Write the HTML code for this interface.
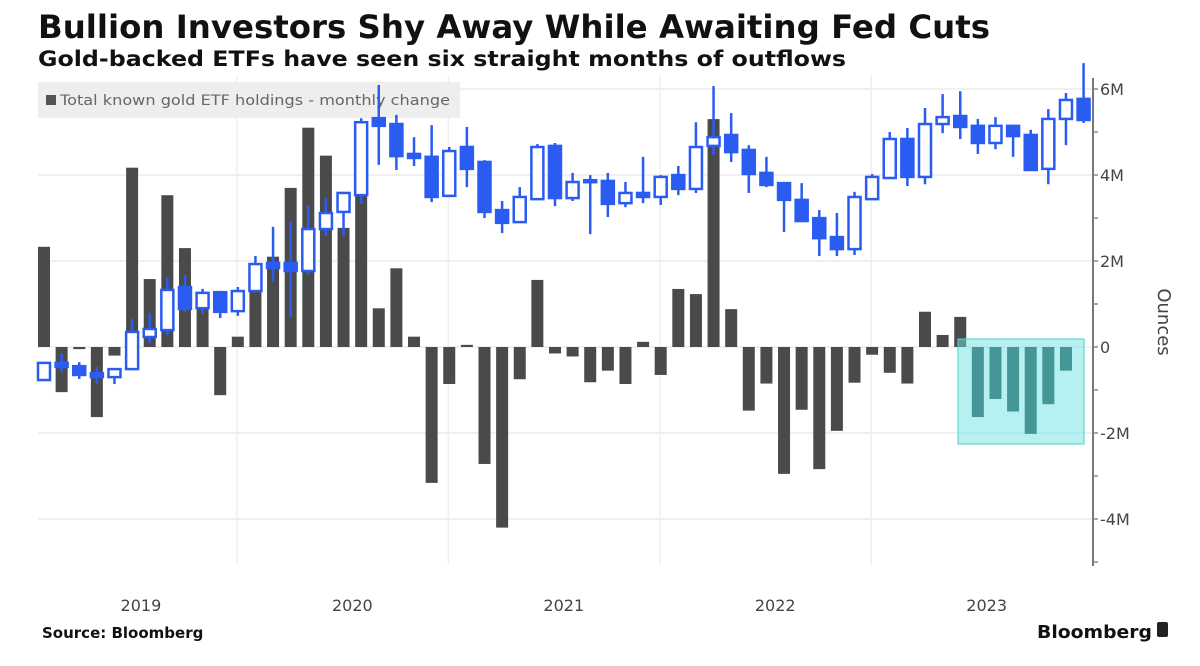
<!DOCTYPE html>
<html><head><meta charset="utf-8"><style>
html,body{margin:0;padding:0;background:#fff;}
svg{display:block;font-family:"DejaVu Sans","Liberation Sans",sans-serif;}
</style></head><body>
<svg id="chart" width="1200" height="666" viewBox="0 0 1200 666">
<text x="38" y="38" font-size="32" font-weight="bold" fill="#111" textLength="952" lengthAdjust="spacingAndGlyphs">Bullion Investors Shy Away While Awaiting Fed Cuts</text>
<text x="38" y="66" font-size="21" font-weight="bold" fill="#111" textLength="808" lengthAdjust="spacingAndGlyphs">Gold-backed ETFs have seen six straight months of outflows</text>
<g id="grid"></g>
<rect x="38" y="82" width="422" height="36" fill="#eeeeee"/>
<rect x="46" y="95" width="10" height="10" fill="#555"/>
<text x="60" y="105" font-size="14" fill="#666" textLength="390" lengthAdjust="spacingAndGlyphs">Total known gold ETF holdings - monthly change</text>
<g id="bars"></g>
<rect x="958" y="339" width="126" height="105" fill="rgba(110,225,228,0.5)" stroke="rgba(80,210,215,0.7)" stroke-width="1.5"/>
<g id="candles"></g>
<g id="axis"></g>
<text transform="translate(1158,322) rotate(90)" text-anchor="middle" font-size="18" fill="#444">Ounces</text>
<g id="xaxis"></g>
<text x="42" y="638" font-size="15" font-weight="bold" fill="#111">Source: Bloomberg</text>
<text x="1152" y="638" font-size="18" font-weight="bold" fill="#111" text-anchor="end" textLength="115" lengthAdjust="spacingAndGlyphs">Bloomberg</text>
<rect x="1157" y="622" width="11" height="15" rx="2" fill="#222"/>
</svg>
<script>
const flows = [2.33,-1.05,-0.05,-1.63,-0.2,4.17,1.58,3.53,2.3,1.1,-1.12,0.24,1.9,2.1,3.7,5.1,4.45,2.77,4.9,0.9,1.83,0.24,-3.16,-0.86,0.05,-2.72,-4.2,-0.75,1.56,-0.15,-0.22,-0.82,-0.55,-0.86,0.12,-0.65,1.35,1.23,5.3,0.88,-1.48,-0.85,-2.95,-1.46,-2.84,-1.95,-0.83,-0.18,-0.6,-0.85,0.82,0.28,0.7,-1.63,-1.21,-1.5,-2.02,-1.33,-0.55];
const opens = [1266,1313,1304,1285,1274,1296,1384,1403,1521,1463,1507,1455,1510,1587,1587,1565,1680,1727,1773,1984,1968,1886,1878,1771,1905,1864,1732,1699,1762,1908,1765,1814,1812,1751,1779,1768,1828,1790,1908,1938,1897,1834,1806,1760,1710,1658,1625,1762,1820,1927,1823,1968,1990,1963,1916,1963,1938,1845,1982,2037];
const highs = [1315,1340,1315,1302,1299,1433,1450,1548,1554,1516,1510,1521,1606,1686,1699,1746,1765,1782,1984,2075,1993,1932,1965,1905,1960,1869,1757,1795,1913,1916,1834,1828,1834,1809,1878,1828,1853,1973,2072,1998,1910,1878,1809,1806,1732,1724,1782,1831,1946,1957,2012,2050,2058,1982,1987,1965,1952,2009,2053,2135];
const lows = [1264,1288,1269,1255,1255,1293,1367,1389,1453,1447,1436,1442,1507,1535,1439,1554,1661,1661,1749,1856,1842,1853,1754,1771,1795,1710,1669,1697,1762,1743,1757,1666,1713,1740,1751,1746,1773,1779,1883,1864,1779,1795,1672,1699,1606,1606,1609,1760,1817,1798,1803,1943,1927,1886,1899,1878,1842,1803,1910,1971];
const closes = [1313,1302,1280,1274,1296,1398,1406,1513,1461,1505,1453,1510,1584,1573,1565,1680,1724,1779,1973,1963,1880,1875,1768,1894,1845,1727,1697,1768,1905,1765,1809,1809,1749,1779,1768,1823,1790,1905,1932,1891,1831,1801,1760,1702,1655,1625,1768,1823,1927,1823,1968,1987,1960,1916,1963,1935,1842,1982,2034,1979];
const yTicks = [6,4,2,0,-2,-4];
const yTickLabels = ["6M","4M","2M","0","-2M","-4M"];
const years = ["2019","2020","2021","2022","2023"];

const NS="http://www.w3.org/2000/svg";
function mk(tag,attrs,parent){const e=document.createElementNS(NS,tag);for(const k in attrs)e.setAttribute(k,attrs[k]);parent.appendChild(e);return e;}
const x0=44, step=17.62;
function xMonth(i){return x0+i*step;}
function yVal(v){return 347-v*43;}
function yPrice(p){return 85+(2075-p)*0.3647;}

const grid=document.getElementById('grid');
yTicks.forEach(t=>{const l=mk('line',{x1:38,x2:1093,y1:yVal(t),y2:yVal(t),stroke:'#ececec','stroke-width':1.5},grid);

});
for(let k=1;k<years.length;k++){const gx=xMonth(12*k)-step*1.05;const l=mk('line',{x1:gx,x2:gx,y1:75,y2:565,stroke:'#efefef','stroke-width':1.5},grid);

}

const bars=document.getElementById('bars');
flows.forEach((v,i)=>{const y=Math.min(yVal(v),yVal(0));const h=Math.max(Math.abs(yVal(v)-yVal(0)),1.5);
const r=mk('rect',{x:xMonth(i)-6,y:y,width:12,height:h,fill:i>=53?'#1c4a4a':'#4a4a4a'},bars);

});

const cg=document.getElementById('candles');
opens.forEach((o,i)=>{const c=closes[i],x=xMonth(i);const blue='#2a5cf2';
const w=mk('line',{x1:x,x2:x,y1:yPrice(highs[i]),y2:yPrice(lows[i]),stroke:blue,'stroke-width':2.5},cg);


const top=yPrice(Math.max(o,c)),bot=yPrice(Math.min(o,c));const up=c>=o;
const b=mk('rect',{x:x-6,y:top,width:12,height:Math.max(bot-top,2),fill:up?'#fff':blue,stroke:blue,'stroke-width':2.5},cg);

});

const ax=document.getElementById('axis');
const al=mk('line',{x1:1093,x2:1093,y1:78,y2:566,stroke:'#777','stroke-width':2},ax);


for(let v=-5;v<=6;v++){const t=mk('line',{x1:1093,x2:1098,y1:yVal(v),y2:yVal(v),stroke:'#888','stroke-width':1.5},ax);

}
yTicks.forEach((t,i)=>{const tx=mk('text',{x:1100,y:yVal(t)+6,'font-size':16,fill:'#444'},ax);tx.textContent=yTickLabels[i];

});

const xa=document.getElementById('xaxis');
years.forEach((yr,k)=>{const tx=mk('text',{x:xMonth(12*k+5.5),y:611,'font-size':16,fill:'#444','text-anchor':'middle'},xa);tx.textContent=yr;

});
</script>
</body></html>
